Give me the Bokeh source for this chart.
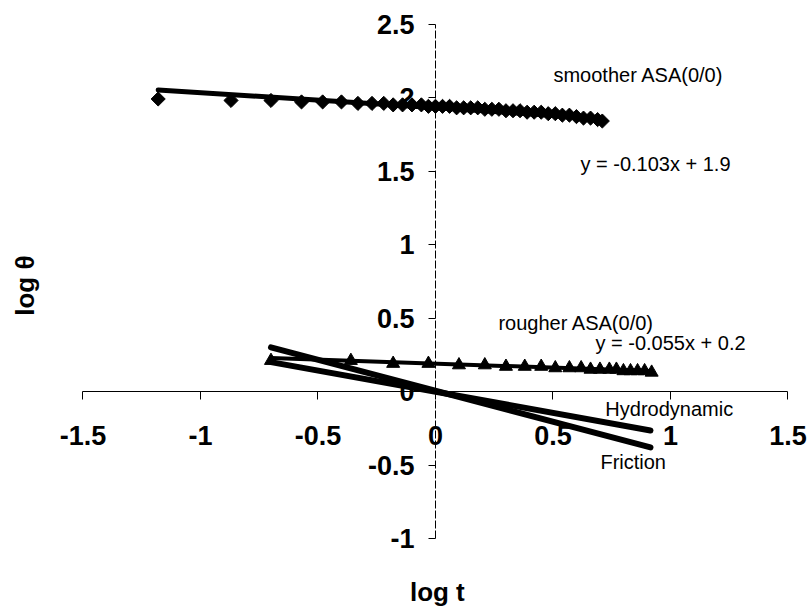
import math
from bokeh.plotting import figure
from bokeh.models import Label, FixedTicker
from bokeh.embed import file_html
from bokeh.resources import INLINE

# ---- data ----
x_ticks = [-1.5, -1, -0.5, 0, 0.5, 1, 1.5]
y_ticks = [-1, -0.5, 0, 0.5, 1, 1.5, 2, 2.5]

smooth_x = [-1.18, -0.87, -0.70, -0.57, -0.48, -0.40, -0.33, -0.27, -0.22, -0.18,
            -0.14, -0.10, -0.06, -0.03, 0.00, 0.03, 0.06, 0.09, 0.12, 0.15,
            0.18, 0.21, 0.24, 0.27, 0.30, 0.33, 0.36, 0.39, 0.42, 0.45,
            0.48, 0.51, 0.54, 0.57, 0.60, 0.63, 0.66, 0.69, 0.71]
smooth_y = [1.99, 1.98, 1.98, 1.97, 1.97, 1.97, 1.96, 1.96, 1.96, 1.95,
            1.95, 1.95, 1.95, 1.94, 1.94, 1.94, 1.94, 1.93, 1.93, 1.93,
            1.93, 1.92, 1.92, 1.92, 1.91, 1.91, 1.91, 1.90, 1.90, 1.90,
            1.89, 1.89, 1.88, 1.88, 1.87, 1.86, 1.86, 1.85, 1.84]
smooth_fit = (-0.103, 1.93)   # slope, intercept (label: y = -0.103x + 1.9)

rough_x = [-0.70, -0.36, -0.18, -0.03, 0.10, 0.21, 0.30, 0.38, 0.45, 0.51, 0.57,
           0.62, 0.66, 0.70, 0.74, 0.77, 0.80, 0.83, 0.86, 0.89, 0.92]
rough_y = [0.21, 0.21, 0.19, 0.19, 0.18, 0.18, 0.17, 0.17, 0.17, 0.16, 0.16,
           0.16, 0.15, 0.15, 0.15, 0.15, 0.14, 0.14, 0.14, 0.14, 0.13]
rough_fit = (-0.055, 0.19)    # label: y = -0.055x + 0.2

model_x = [-0.70, 0.915]
hydro_y = [0.20, -0.265]
friction_y = [0.30, -0.38]

FONT = "Liberation Sans"

# frame covers the whole canvas so that axes drawn at the origin are not clipped
p = figure(width=810, height=614, x_range=(-1.851, 1.596), y_range=(-1.517, 2.660),
           output_backend="svg", toolbar_location=None,
           min_border_left=0, min_border_right=0, min_border_top=0, min_border_bottom=0)
p.outline_line_color = None
p.xgrid.visible = False
p.ygrid.visible = False
p.background_fill_color = "white"
p.border_fill_color = "white"

# axes crossing at the origin
p.xaxis.fixed_location = 0
p.yaxis.fixed_location = 0
p.xaxis.bounds = (x_ticks[0], x_ticks[-1])
p.yaxis.bounds = (y_ticks[0], y_ticks[-1])
p.xaxis.ticker = FixedTicker(ticks=x_ticks)
p.yaxis.ticker = FixedTicker(ticks=y_ticks)
p.xaxis.major_label_overrides = {t: f"{t:g}" for t in x_ticks}
p.yaxis.major_label_overrides = {t: f"{t:g}" for t in y_ticks}
for ax in (p.xaxis, p.yaxis):
    ax.minor_tick_line_color = None
    ax.major_tick_in = 0
    ax.axis_line_color = "black"
    ax.major_tick_line_color = "black"
    ax.major_label_text_font = FONT
    ax.major_label_text_font_style = "bold"
    ax.major_label_text_font_size = "27px"
    ax.major_label_text_color = "black"
p.xaxis.major_tick_out = 8
p.xaxis.major_label_standoff = 26
p.yaxis.major_tick_out = 7
p.yaxis.major_label_standoff = 14
p.yaxis.axis_line_dash = "8 2"

# smoother series
p.scatter(smooth_x, smooth_y, marker="square", angle=math.pi / 4, size=10, color="black")
sx = [min(smooth_x), max(smooth_x)]
p.line(sx, [smooth_fit[0] * v + smooth_fit[1] for v in sx], line_width=5, color="black", line_cap="round")

# rougher series
p.scatter(rough_x, rough_y, marker="triangle", size=13, color="black")
rx = [min(rough_x), max(rough_x)]
p.line(rx, [rough_fit[0] * v + rough_fit[1] for v in rx], line_width=4, color="black", line_cap="round")

# model lines
p.line(model_x, hydro_y, line_width=6, color="black", line_cap="round")
p.line(model_x, friction_y, line_width=6, color="black", line_cap="round")

def note(x, y, text, size="20px", bold=False, angle=0.0, align="left"):
    p.add_layout(Label(x=x, y=y, text=text, text_font=FONT,
                       text_font_size=size, text_font_style="bold" if bold else "normal",
                       text_color="black", text_baseline="middle", text_align=align,
                       angle=angle))

note(0.502, 2.15, "smoother ASA(0/0)")
note(0.617, 1.551, "y = -0.103x + 1.9")
note(0.268, 0.469, "rougher ASA(0/0)")
note(0.681, 0.333, "y = -0.055x + 0.2")
note(0.723, -0.116, "Hydrodynamic")
note(0.702, -0.48, "Friction")
note(0.008, -1.367, "log t", size="26px", bold=True, align="center")
note(-1.745, 0.72, "log θ", size="26px", bold=True, angle=math.pi / 2, align="center")

open("out.html", "w").write(file_html(p, INLINE))
